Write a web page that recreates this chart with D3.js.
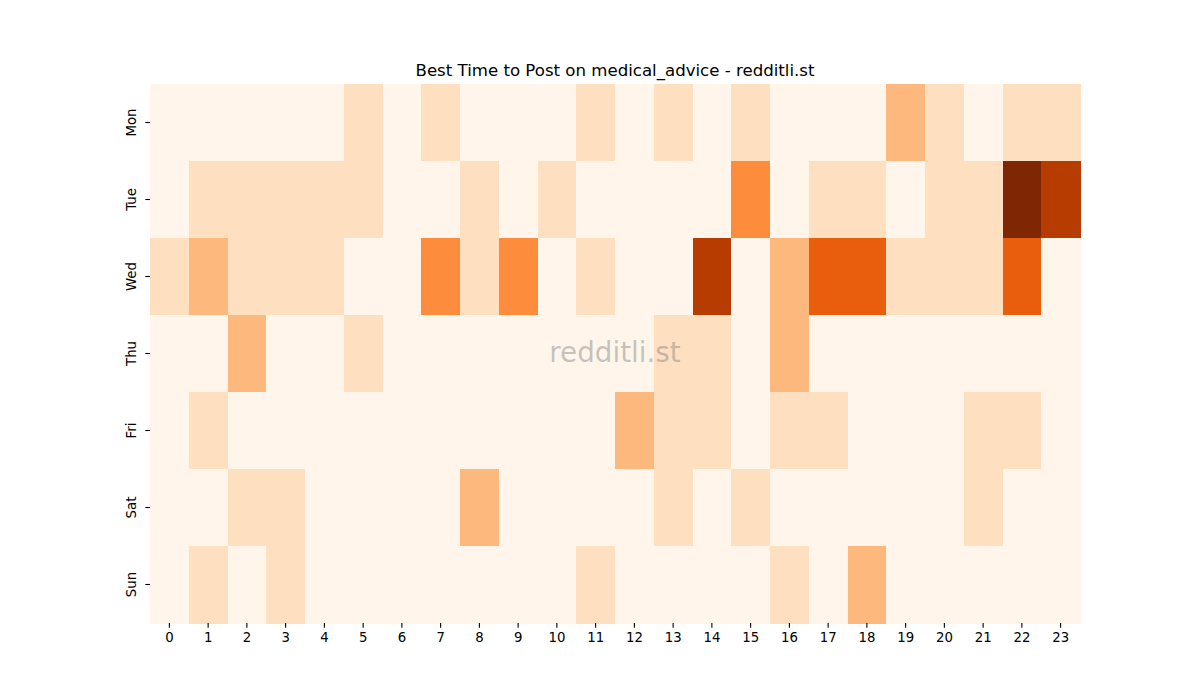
<!DOCTYPE html>
<html>
<head>
  <meta charset="UTF-8">
  <style>
    body { margin: 0; background: #fff; }
    text { font-family: "DejaVu Sans", sans-serif; }
  </style>
</head>
<body>
  <svg id="chart" width="1200" height="700"></svg>
  <script src="https://d3js.org/d3.v7.min.js"></script>
  <script>
    // posts per weekday / hour
    var days = ["Mon", "Tue", "Wed", "Thu", "Fri", "Sat", "Sun"];
    var hours = d3.range(24);
    var mon = [0,0,0,0,0,1,0,1,0,0,0,1,0,1,0,1,0,0,0,2,1,0,1,1];
    var tue = [0,1,1,1,1,1,0,0,1,0,1,0,0,0,0,3,0,1,1,0,1,1,6,5];
    var wed = [1,2,1,1,1,0,0,3,1,3,0,1,0,0,5,0,2,4,4,1,1,1,4,0];
    var thu = [0,0,2,0,0,1,0,0,0,0,0,0,0,1,1,0,2,0,0,0,0,0,0,0];
    var fri = [0,1,0,0,0,0,0,0,0,0,0,0,2,1,1,0,1,1,0,0,0,1,1,0];
    var sat = [0,0,1,1,0,0,0,0,2,0,0,0,0,1,0,1,0,0,0,0,0,1,0,0];
    var sun = [0,1,0,1,0,0,0,0,0,0,0,1,0,0,0,0,1,0,2,0,0,0,0,0];
    var rows = [mon, tue, wed, thu, fri, sat, sun];

    // matplotlib "Oranges"
    var orangeStops = ["#fff5eb","#fee6ce","#fdd0a2","#fdae6b","#fd8d3c","#f16913","#d94801","#a63603","#7f2704"];

    var svg = d3.select("#chart");
    var margin = {left: 150, right: 120, top: 84, bottom: 77};
    var W = 1200 - margin.left - margin.right;
    var H = 700 - margin.top - margin.bottom;

    var cells = [];
    rows.forEach(function(r, i) {
      r.forEach(function(v, j) { cells.push({day: days[i], hour: hours[j], value: v}); });
    });
    var maxV = d3.max(cells, function(d) { return d.value; });

    var x = d3.scaleBand().domain(hours).range([0, W]);
    var y = d3.scaleBand().domain(days).range([0, H]);
    var t = d3.scaleLinear().domain([0, maxV]).range([0, 1]);
    var color = d3.scaleLinear()
      .domain(orangeStops.map(function(c, i) { return i / (orangeStops.length - 1); }))
      .range(orangeStops)
      .interpolate(d3.interpolateRgb);

    var g = svg.append("g").attr("transform", "translate(" + margin.left + "," + margin.top + ")");

    g.selectAll("rect")
      .data(cells)
      .enter().append("rect")
      .attr("x", function(d) { return x(d.hour); })
      .attr("y", function(d) { return y(d.day); })
      .attr("width", x.bandwidth() + 0.5)
      .attr("height", y.bandwidth() + 0.5)
      .attr("fill", function(d) { return color(t(d.value)); })
      .attr("shape-rendering", "crispEdges");

    var xAxis = g.append("g")
      .attr("transform", "translate(0," + H + ")")
      .call(d3.axisBottom(x).tickSize(4.7).tickPadding(4.5));
    var yAxis = g.append("g")
      .call(d3.axisLeft(y).tickSize(4.7).tickPadding(4.5));
    [xAxis, yAxis].forEach(function(a) {
      a.select(".domain").remove();
      a.selectAll(".tick line").attr("stroke", "#000").attr("stroke-width", 1.1);
      a.selectAll(".tick text").attr("fill", "#000").style("font-size", "13.3px").style("font-family", "DejaVu Sans");
    });
    yAxis.selectAll(".tick text")
      .attr("x", null).attr("dy", null)
      .attr("text-anchor", "middle")
      .attr("transform", "translate(-14,0) rotate(-90)")
      .attr("dominant-baseline", "auto")
      .attr("y", 0);

    svg.append("text")
      .attr("x", margin.left + W / 2)
      .attr("y", 76)
      .attr("text-anchor", "middle")
      .style("font-size", "16.6px")
      .attr("fill", "#000")
      .text("Best Time to Post on medical_advice - redditli.st");

    svg.append("text")
      .attr("x", margin.left + W / 2)
      .attr("y", 362)
      .attr("text-anchor", "middle")
      .style("font-size", "27.8px")
      .attr("fill", "#808080")
      .attr("fill-opacity", 0.45)
      .text("redditli.st");
  </script>
</body>
</html>
